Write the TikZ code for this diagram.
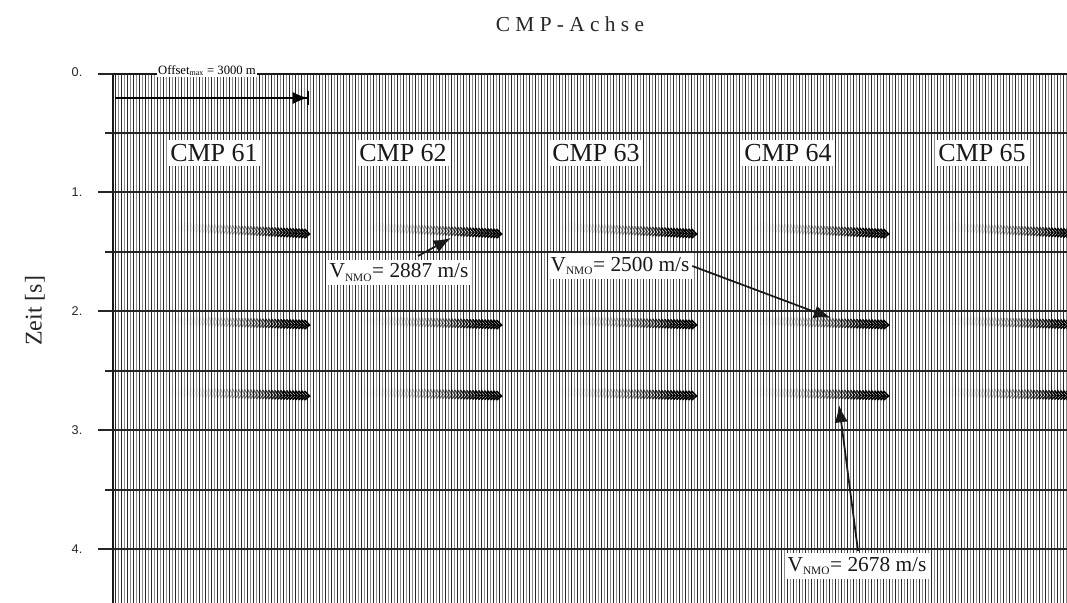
\documentclass[tikz,border=0pt]{standalone}
\usepackage{fontspec}
\setmainfont{Liberation Serif}
\newfontfamily\arialf{Liberation Sans}
\newfontfamily\spacedf[LetterSpace=25]{Liberation Serif}
\usetikzlibrary{arrows.meta}
\tikzset{
  blacktrace/.style={line width=0.75pt, black!85},
  graytrace/.style={line width=0.75pt, black!45},
  gridline/.style={line width=0.8pt, black!85},
  tickmark/.style={line width=1.4pt, black!85},
  ticklabel/.style={font=\arialf\fontsize{9.5}{10}\selectfont, text=black!85},
  cmplabel/.style={fill=white, inner xsep=1.5pt, inner ysep=3.5pt, font=\fontsize{19.5}{21}\selectfont, text=black!90},
  vlabel/.style={fill=white, inner xsep=2pt, inner ysep=3pt, font=\fontsize{16}{18}\selectfont, text=black!90},
  pointer/.style={line width=1.3pt, black!90, -{Latex[length=13pt,width=10pt]}},
}
\newcommand{\vnmo}[1]{V\textsubscript{\fontsize{8.5}{9}\selectfont NMO}= #1 m/s}
\begin{document}
\begin{tikzpicture}[x=0.75pt,y=-0.75pt]
\useasboundingbox (0,0) rectangle (1067,603);
\fill[white] (0,0) rectangle (1067,603);
% ---------- traces ----------
\begin{scope}
\clip (113,74) rectangle (1067,603);
\foreach \k in {0,...,159}{
  \draw[blacktrace] ({115.5+6*\k},74) -- ({115.5+6*\k},603);
  \draw[graytrace] ({118.5+6*\k},74) -- ({118.5+6*\k},603);
}
% events (wiggles)
\foreach \g in {0,...,4}{
  \foreach \yy/\sl in {234/0.05,325/0.03,396/0.025}{
    \foreach \k in {0,...,50}{
      \pgfmathtruncatemacro\ie{round((305+192.6*\g-115.5)/3)-\k}
      \pgfmathsetmacro\xx{115.5+3*\ie}
      \pgfmathsetmacro\s{1-\k/51}
      \pgfmathsetmacro\op{min(1,1.4*\s*\s)}
      \pgfmathsetmacro\yc{\yy-\sl*3*\k}
      \pgfmathsetmacro\am{1+4*\s}
      \pgfmathsetmacro\lw{0.5+0.8*\s}
      \draw[line width=\lw pt, black, opacity=\op]
        (\xx,\yc-5) -- (\xx+\am,\yc) -- (\xx,\yc+4);
    }
  }
}
\end{scope}
% ---------- grid ----------
\foreach \y in {133,192,252,311,371,430,490,549}{
  \draw[gridline] (113,\y) -- (1067,\y);
}
\draw[line width=1.6pt, black!90] (113,74) -- (1067,74);
\draw[line width=1.8pt, black!90] (113,73.2) -- (113,603);
% ---------- ticks ----------
\foreach \y in {74,192,311,430,549}{
  \draw[tickmark] (98,\y) -- (113,\y);
}
\foreach \y in {133,252,371,490}{
  \draw[tickmark] (105,\y) -- (113,\y);
}
\node[ticklabel] (t0) at (77,72) {0.};
\node[ticklabel] (t1) at (77,192) {1.};
\node[ticklabel] (t2) at (77,311) {2.};
\node[ticklabel] (t3) at (77,430) {3.};
\node[ticklabel] (t4) at (77,549) {4.};
% ---------- titles ----------
\node[font=\spacedf\fontsize{16}{18}\selectfont, text=black!85] (title) at (570,24) {CMP-Achse};
\node[rotate=90, font=\fontsize{18}{20}\selectfont, text=black!85] (zeit) at (35,311) {Zeit [s]};
% ---------- CMP labels ----------
\node[cmplabel] (c61) at (214,153) {CMP 61};
\node[cmplabel] (c62) at (403,153) {CMP 62};
\node[cmplabel] (c63) at (596,153) {CMP 63};
\node[cmplabel] (c64) at (788,153) {CMP 64};
\node[cmplabel] (c65) at (982,153) {CMP 65};
% ---------- offset ----------
\node[fill=white, inner xsep=1pt, inner ysep=1pt, font=\fontsize{9.5}{10}\selectfont] (off) at (207,70.5) {Offset\textsubscript{\fontsize{6}{6}\selectfont max} = 3000 m};
\coordinate (offa) at (115,98);
\coordinate (offb) at (309,98);
\draw[line width=0.9pt, -{Latex[length=11pt,width=9pt]Bar[width=10pt,line width=1.2pt]}] (offa) -- (offb);
% ---------- velocity labels ----------
\node[vlabel] (v1) at (399,272.5) {\vnmo{2887}};
\node[vlabel] (v2) at (620,266) {\vnmo{2500}};
\node[vlabel] (v3) at (857,566) {\vnmo{2678}};
\coordinate (e1) at (451,238);
\coordinate (e2) at (831,318);
\coordinate (e3) at (839,405);
\draw[pointer] (418,256) -- (e1);
\draw[pointer] (v2.east) -- (e2);
\draw[pointer] (858,551) -- (e3);
\end{tikzpicture}
\end{document}
